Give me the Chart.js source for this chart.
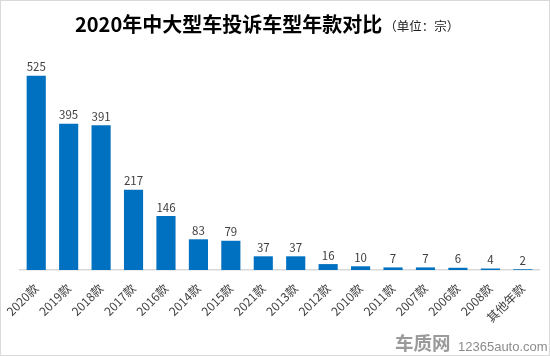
<!DOCTYPE html>
<html><head><meta charset="utf-8">
<script src="https://cdn.jsdelivr.net/npm/chart.js@4"></script>
<style>html,body{margin:0;padding:0;background:#fff;}#wrap{width:550px;height:356px;position:relative;}</style>
</head><body><div id="wrap"><canvas id="c" width="550" height="356"></canvas></div>
<script>
const categories = ["2020款","2019款","2018款","2017款","2016款","2014款","2015款","2021款","2013款","2012款","2010款","2011款","2007款","2006款","2008款","其他年款"];
const complaints = [525,395,391,217,146,83,79,37,37,16,10,7,7,6,4,2];
const titleMain = "2020年中大型车投诉车型年款对比";
const titleUnit = "（单位：宗）";
const watermarkLogo = "车质网";
const watermarkSite = "12365auto.com";

const CJK = '"Noto Sans CJK SC", "Noto Sans", sans-serif';

const deco = {
  id: 'deco',
  beforeDraw(chart) {
    const ctx = chart.ctx;
    ctx.save();
    ctx.fillStyle = '#fff';
    ctx.fillRect(0, 0, chart.width, chart.height);
    ctx.strokeStyle = '#d9d9d9';
    ctx.lineWidth = 1;
    ctx.strokeRect(0.5, 0.5, chart.width - 1, chart.height - 1);
    ctx.restore();
  },
  afterDatasetsDraw(chart) {
    const ctx = chart.ctx;
    ctx.save();
    // title
    ctx.textBaseline = 'middle';
    ctx.textAlign = 'left';
    ctx.fillStyle = '#000';
    ctx.font = 'bold 20px ' + CJK;
    const w1 = ctx.measureText(titleMain).width;
    let x0 = 75;
    ctx.fillText(titleMain, x0, 24);
    ctx.font = '12.5px ' + CJK;
    ctx.fillStyle = '#222';
    ctx.fillText(titleUnit, x0 + w1 + 2, 26);
    // data labels
    const meta = chart.getDatasetMeta(0);
    ctx.font = '11.5px ' + CJK;
    ctx.fillStyle = '#404040';
    ctx.textAlign = 'center';
    ctx.textBaseline = 'bottom';
    meta.data.forEach((bar, i) => {
      ctx.fillText(String(complaints[i]), bar.x, bar.y - 3);
    });
    // watermark
    ctx.textBaseline = 'middle';
    ctx.textAlign = 'left';
    ctx.fillStyle = '#9a9a9a';
    ctx.font = 'bold 18.5px ' + CJK;
    ctx.fillText(watermarkLogo, 395, 343);
    ctx.fillStyle = '#8c8c8c';
    ctx.font = '13px "Liberation Sans", Arial, sans-serif';
    ctx.fillText(watermarkSite, 458, 347);
    ctx.restore();
  }
};

new Chart(document.getElementById('c'), {
  type: 'bar',
  data: {
    labels: categories,
    datasets: [{
      data: complaints,
      backgroundColor: '#0070c0',
      borderWidth: 0,
      barPercentage: 0.59,
      categoryPercentage: 1.0
    }]
  },
  options: {
    responsive: false,
    animation: false,
    events: [],
    layout: { padding: { top: 48, left: 20, right: 11, bottom: 0 } },
    plugins: { legend: { display: false }, tooltip: { enabled: false }, title: { display: false } },
    scales: {
      x: {
        grid: { display: false, drawTicks: false },
        border: { display: true, color: '#d9d9d9', width: 1.5 },
        ticks: {
          color: '#404040',
          font: { size: 12, family: CJK },
          minRotation: 45, maxRotation: 45,
          padding: 11,
          autoSkip: false
        },
        afterFit(scale) { scale.height = 86; scale.paddingLeft = 0; scale.paddingRight = 0; }
      },
      y: {
        display: false,
        min: 0,
        max: 600
      }
    }
  },
  plugins: [deco]
});
</script>
</body></html>
